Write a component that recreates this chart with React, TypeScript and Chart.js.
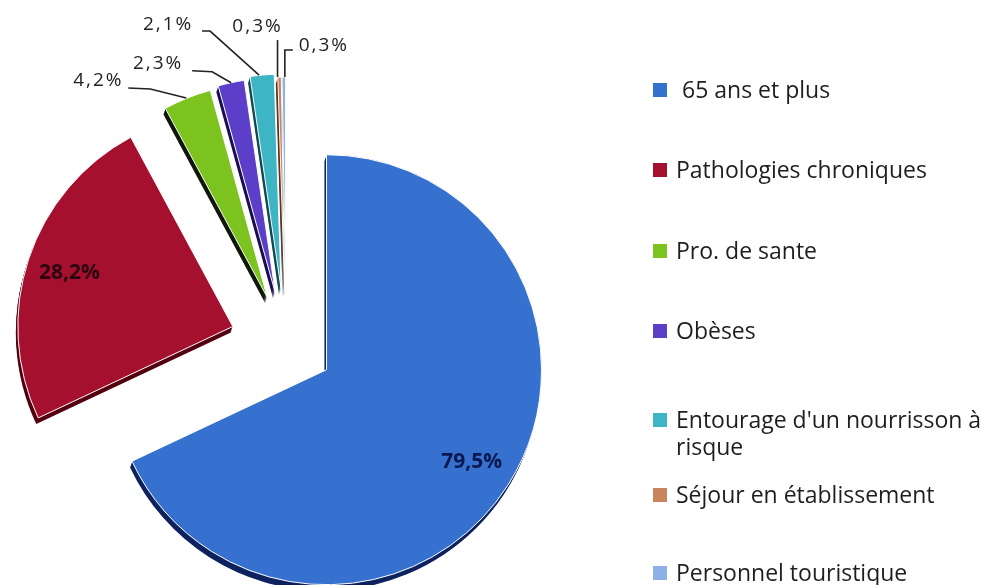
import React, { useEffect, useRef } from 'react';
import { Chart, registerables } from 'chart.js';

Chart.register(...registerables);

// ---- data ----
const LABELS = [
  ' 65 ans et plus',
  'Pathologies chroniques',
  'Pro. de sante',
  'Obèses',
  "Entourage d'un nourrisson à risque",
  'Séjour en établissement',
  'Personnel touristique',
];
const VALUES = [79.5, 28.2, 4.2, 2.3, 2.1, 0.3, 0.3];

// ---- styles ----
const COLORS = ['#3671d0', '#a6102f', '#7cc320', '#5b3fc9', '#3db5c5', '#c8845a', '#8db0e8'];
const DEPTH_COLORS = ['#0e2260', '#55000f', '#10180a', '#1c0e55', '#0f4a52', '#5a3520', '#3a5a90'];
const EXPLODE = [48, 56, 50, 52, 55, 52, 52];
const RADIUS = 215;
const DEPTH_DX = -2;
const DEPTH_DY = 6;
const DEPTH_STEPS = 6;
const INSIDE_LABEL_COLORS = ['#0a1850', '#2b0410'];
// label text offset from slice's outer-arc midpoint, and leader polyline (relative)
const OUT_TEXT_OFFSET: ([number, number] | null)[] = [
  null, null, [-89, -17], [-73, -19], [-94, -50], [-22, -50], [40, -31],
];
const OUT_LEADER: ([number, number][] | null)[] = [
  null,
  null,
  [[-59, -10], [-37, -9], [-1, 0]],
  [[-39, -12], [-19, -11], [0, 0]],
  [[-60, -44], [-52, -44], [-3, 0]],
  [[-2, -37], [-2, 0]],
  [[9, -27], [1, -27], [1, 0]],
];
const LEGEND_Y = [90, 170, 251, 331, 420, 495, 573];

const fmt = (v: number) => v.toFixed(1).replace('.', ',') + '%';

const explodePlugin = {
  id: 'explode3d',
  beforeDatasetDraw(chart: any, args: any) {
    const meta = chart.getDatasetMeta(args.index);
    const ctx = chart.ctx;
    const geo = meta.data.map((arc: any, i: number) => {
      const { x, y, startAngle, endAngle, outerRadius } = arc;
      const mid = (startAngle + endAngle) / 2;
      return {
        arc,
        tx: Math.cos(mid) * EXPLODE[i],
        ty: Math.sin(mid) * EXPLODE[i],
        x, y, startAngle, endAngle, outerRadius,
      };
    });
    // depth (3D rim)
    geo.forEach((g: any, i: number) => {
      ctx.save();
      ctx.fillStyle = DEPTH_COLORS[i];
      for (let k = 1; k <= DEPTH_STEPS; k++) {
        const ox = g.x + g.tx + (DEPTH_DX * k) / DEPTH_STEPS;
        const oy = g.y + g.ty + (DEPTH_DY * k) / DEPTH_STEPS;
        ctx.beginPath();
        ctx.moveTo(ox, oy);
        ctx.arc(ox, oy, g.outerRadius, g.startAngle, g.endAngle);
        ctx.closePath();
        ctx.fill();
      }
      ctx.restore();
    });
    // top faces
    geo.forEach((g: any) => {
      ctx.save();
      ctx.translate(g.tx, g.ty);
      g.arc.draw(ctx, chart.chartArea);
      ctx.restore();
    });
    return false;
  },
};

const labelPlugin = {
  id: 'pieLabels',
  afterDatasetsDraw(chart: any) {
    const meta = chart.getDatasetMeta(0);
    const ctx = chart.ctx;
    meta.data.forEach((arc: any, i: number) => {
      const { x, y, startAngle, endAngle, outerRadius } = arc;
      const mid = (startAngle + endAngle) / 2;
      const ux = Math.cos(mid);
      const uy = Math.sin(mid);
      const ax = x + ux * EXPLODE[i];
      const ay = y + uy * EXPLODE[i];
      const text = fmt(VALUES[i]);
      ctx.save();
      ctx.textBaseline = 'middle';
      ctx.textAlign = 'center';
      const off = OUT_TEXT_OFFSET[i];
      if (!off) {
        ctx.font = "bold 21px 'Open Sans'";
        ctx.fillStyle = INSIDE_LABEL_COLORS[i] || '#111';
        ctx.fillText(text, ax + ux * outerRadius * 0.8, ay + uy * outerRadius * 0.8);
      } else {
        const px = ax + ux * outerRadius;
        const py = ay + uy * outerRadius;
        const lead = OUT_LEADER[i];
        if (lead) {
          ctx.strokeStyle = '#222';
          ctx.lineWidth = 1.6;
          ctx.beginPath();
          lead.forEach((p, j) => {
            if (j === 0) ctx.moveTo(px + p[0], py + p[1]);
            else ctx.lineTo(px + p[0], py + p[1]);
          });
          ctx.stroke();
        }
        ctx.font = "19px 'Open Sans'";
        (ctx as any).letterSpacing = '2px';
        ctx.fillStyle = '#222';
        ctx.fillText(text, px + off[0], py + off[1]);
      }
      ctx.restore();
    });
  },
};

export default function App() {
  const ref = useRef<HTMLCanvasElement>(null);
  useEffect(() => {
    const chart = new Chart(ref.current as HTMLCanvasElement, {
      type: 'pie',
      data: {
        labels: LABELS,
        datasets: [
          {
            data: VALUES,
            backgroundColor: COLORS,
            borderColor: '#ffffff',
            borderWidth: 1,
            offset: 0,
            hoverOffset: 0,
            clip: false,
            radius: RADIUS,
          } as any,
        ],
      },
      options: {
        responsive: false,
        animation: false,
        events: [],
        radius: RADIUS,
        layout: { padding: { left: 0, top: 103, right: 409, bottom: 0 } },
        plugins: { legend: { display: false }, tooltip: { enabled: false } },
      } as any,
      plugins: [explodePlugin, labelPlugin],
    });
    return () => chart.destroy();
  }, []);

  return (
    <div
      style={{
        position: 'fixed',
        left: 0,
        top: 0,
        width: 981,
        height: 585,
        overflow: 'hidden',
        background: '#fff',
      }}
    >
      <canvas ref={ref} width={981} height={585} style={{ position: 'absolute', left: 0, top: 0 }} />
      {LABELS.map((lab, i) => (
        <React.Fragment key={i}>
          <div
            style={{
              position: 'absolute',
              left: 653,
              top: LEGEND_Y[i] - 7,
              width: 14,
              height: 14,
              background: COLORS[i],
            }}
          />
          <div
            style={{
              position: 'absolute',
              left: 676,
              top: LEGEND_Y[i] - 14,
              width: 312,
              font: "23px 'Open Sans'",
              lineHeight: '27px',
              color: '#1e1e1e',
              whiteSpace: i === 4 ? 'normal' : 'pre',
            }}
          >
            {lab}
          </div>
        </React.Fragment>
      ))}
    </div>
  );
}
